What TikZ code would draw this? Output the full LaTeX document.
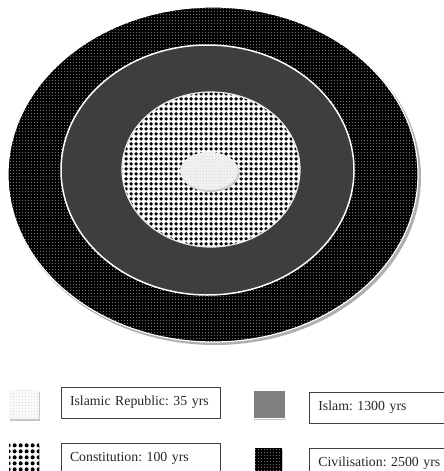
\documentclass[tikz,border=0pt]{standalone}
\usepackage{fontspec}
\setmainfont{Liberation Serif}
\usetikzlibrary{patterns,shadows}
\definecolor{Ringgray}{RGB}{62,62,62}
\definecolor{Keygray}{RGB}{128,128,128}
\definecolor{Coreface}{RGB}{240,240,240}
\definecolor{Rimshade}{RGB}{175,175,175}

\pgfdeclarepatternformonly{finedots}{\pgfqpoint{0pt}{0pt}}{\pgfqpoint{3.3pt}{3.3pt}}{\pgfqpoint{3.3pt}{3.3pt}}{%
  \pgfpathcircle{\pgfqpoint{1.65pt}{1.65pt}}{0.5pt}\pgfusepath{fill}}
\pgfdeclarepatternformonly{gridspots}{\pgfqpoint{0pt}{0pt}}{\pgfqpoint{4.6pt}{4.6pt}}{\pgfqpoint{4.6pt}{4.6pt}}{%
  \pgfpathcircle{\pgfqpoint{2.3pt}{2.3pt}}{2.05pt}\pgfusepath{fill}}
\pgfdeclarepatternformonly{keyspots}{\pgfqpoint{0pt}{0pt}}{\pgfqpoint{6pt}{6pt}}{\pgfqpoint{6pt}{6pt}}{%
  \pgfpathcircle{\pgfqpoint{3pt}{3pt}}{2.3pt}\pgfusepath{fill}}

\begin{document}
\frenchspacing
\begin{tikzpicture}[x=1pt,y=-1pt,line join=round,
  keybox/.style={draw=black!75,line width=0.7pt,minimum height=31pt,text width=141pt,
    inner xsep=9pt,align=left,text=black!85,font=\fontsize{13.8}{15}\selectfont},
  swatch/.style={inner sep=0pt,drop shadow={shadow xshift=1pt,shadow yshift=-1.5pt,fill=gray!45,opacity=1}},
  dotted tile/.style={postaction={pattern=finedots,pattern color=#1}},
  spotted tile/.style={postaction={pattern=#1,pattern color=black}}]
\useasboundingbox (0,0) rectangle (444,471);
% civilisation ring
\fill[Rimshade] (215,177) ellipse[x radius=206,y radius=168];
\fill[black,dotted tile=gray!35] (213,174.5) ellipse[x radius=205,y radius=167.5];
\draw[white,line width=1.2pt] (213,174.5) ellipse[x radius=205,y radius=167.5];
% islam ring
\fill[Ringgray] (207.5,170) ellipse[x radius=146.5,y radius=125];
\draw[white,line width=1.5pt] (207.5,170) ellipse[x radius=146.5,y radius=125];
% constitution disc
\fill[white,spotted tile=gridspots] (211,169.5) ellipse[x radius=89,y radius=77.5];
\draw[white!85!gray,line width=1.2pt] (211,169.5) ellipse[x radius=89,y radius=77.5];
% islamic republic core
\fill[gray!40] (210.5,173) ellipse[x radius=29,y radius=19];
\fill[Coreface,dotted tile=gray!35] (209,171) ellipse[x radius=29,y radius=19];

% key
\node[swatch,minimum width=30pt,minimum height=29pt,fill=gray!4,dotted tile=gray!45] (irswatch) at (24,404.5) {};
\node[keybox] (irkey) at (140.5,402.5) {Islamic Republic: 35 yrs};
\node[swatch,minimum width=32pt,minimum height=28pt,fill=Keygray,draw=white,line width=1pt] (islamswatch) at (269,404) {};
\node[keybox,anchor=west] (islamkey) at (309,407.5) {Islam: 1300 yrs};
\node[swatch,minimum width=30pt,minimum height=28pt,fill=white,spotted tile=keyspots] (constswatch) at (24,457) {};
\node[keybox] (constkey) at (140.5,458.5) {Constitution: 100 yrs};
\node[swatch,minimum width=27pt,minimum height=27pt,fill=black,dotted tile=gray!45] (civswatch) at (268.5,461.5) {};
\node[keybox,anchor=west] (civkey) at (309,463.5) {Civilisation: 2500 yrs};
\end{tikzpicture}
\end{document}
